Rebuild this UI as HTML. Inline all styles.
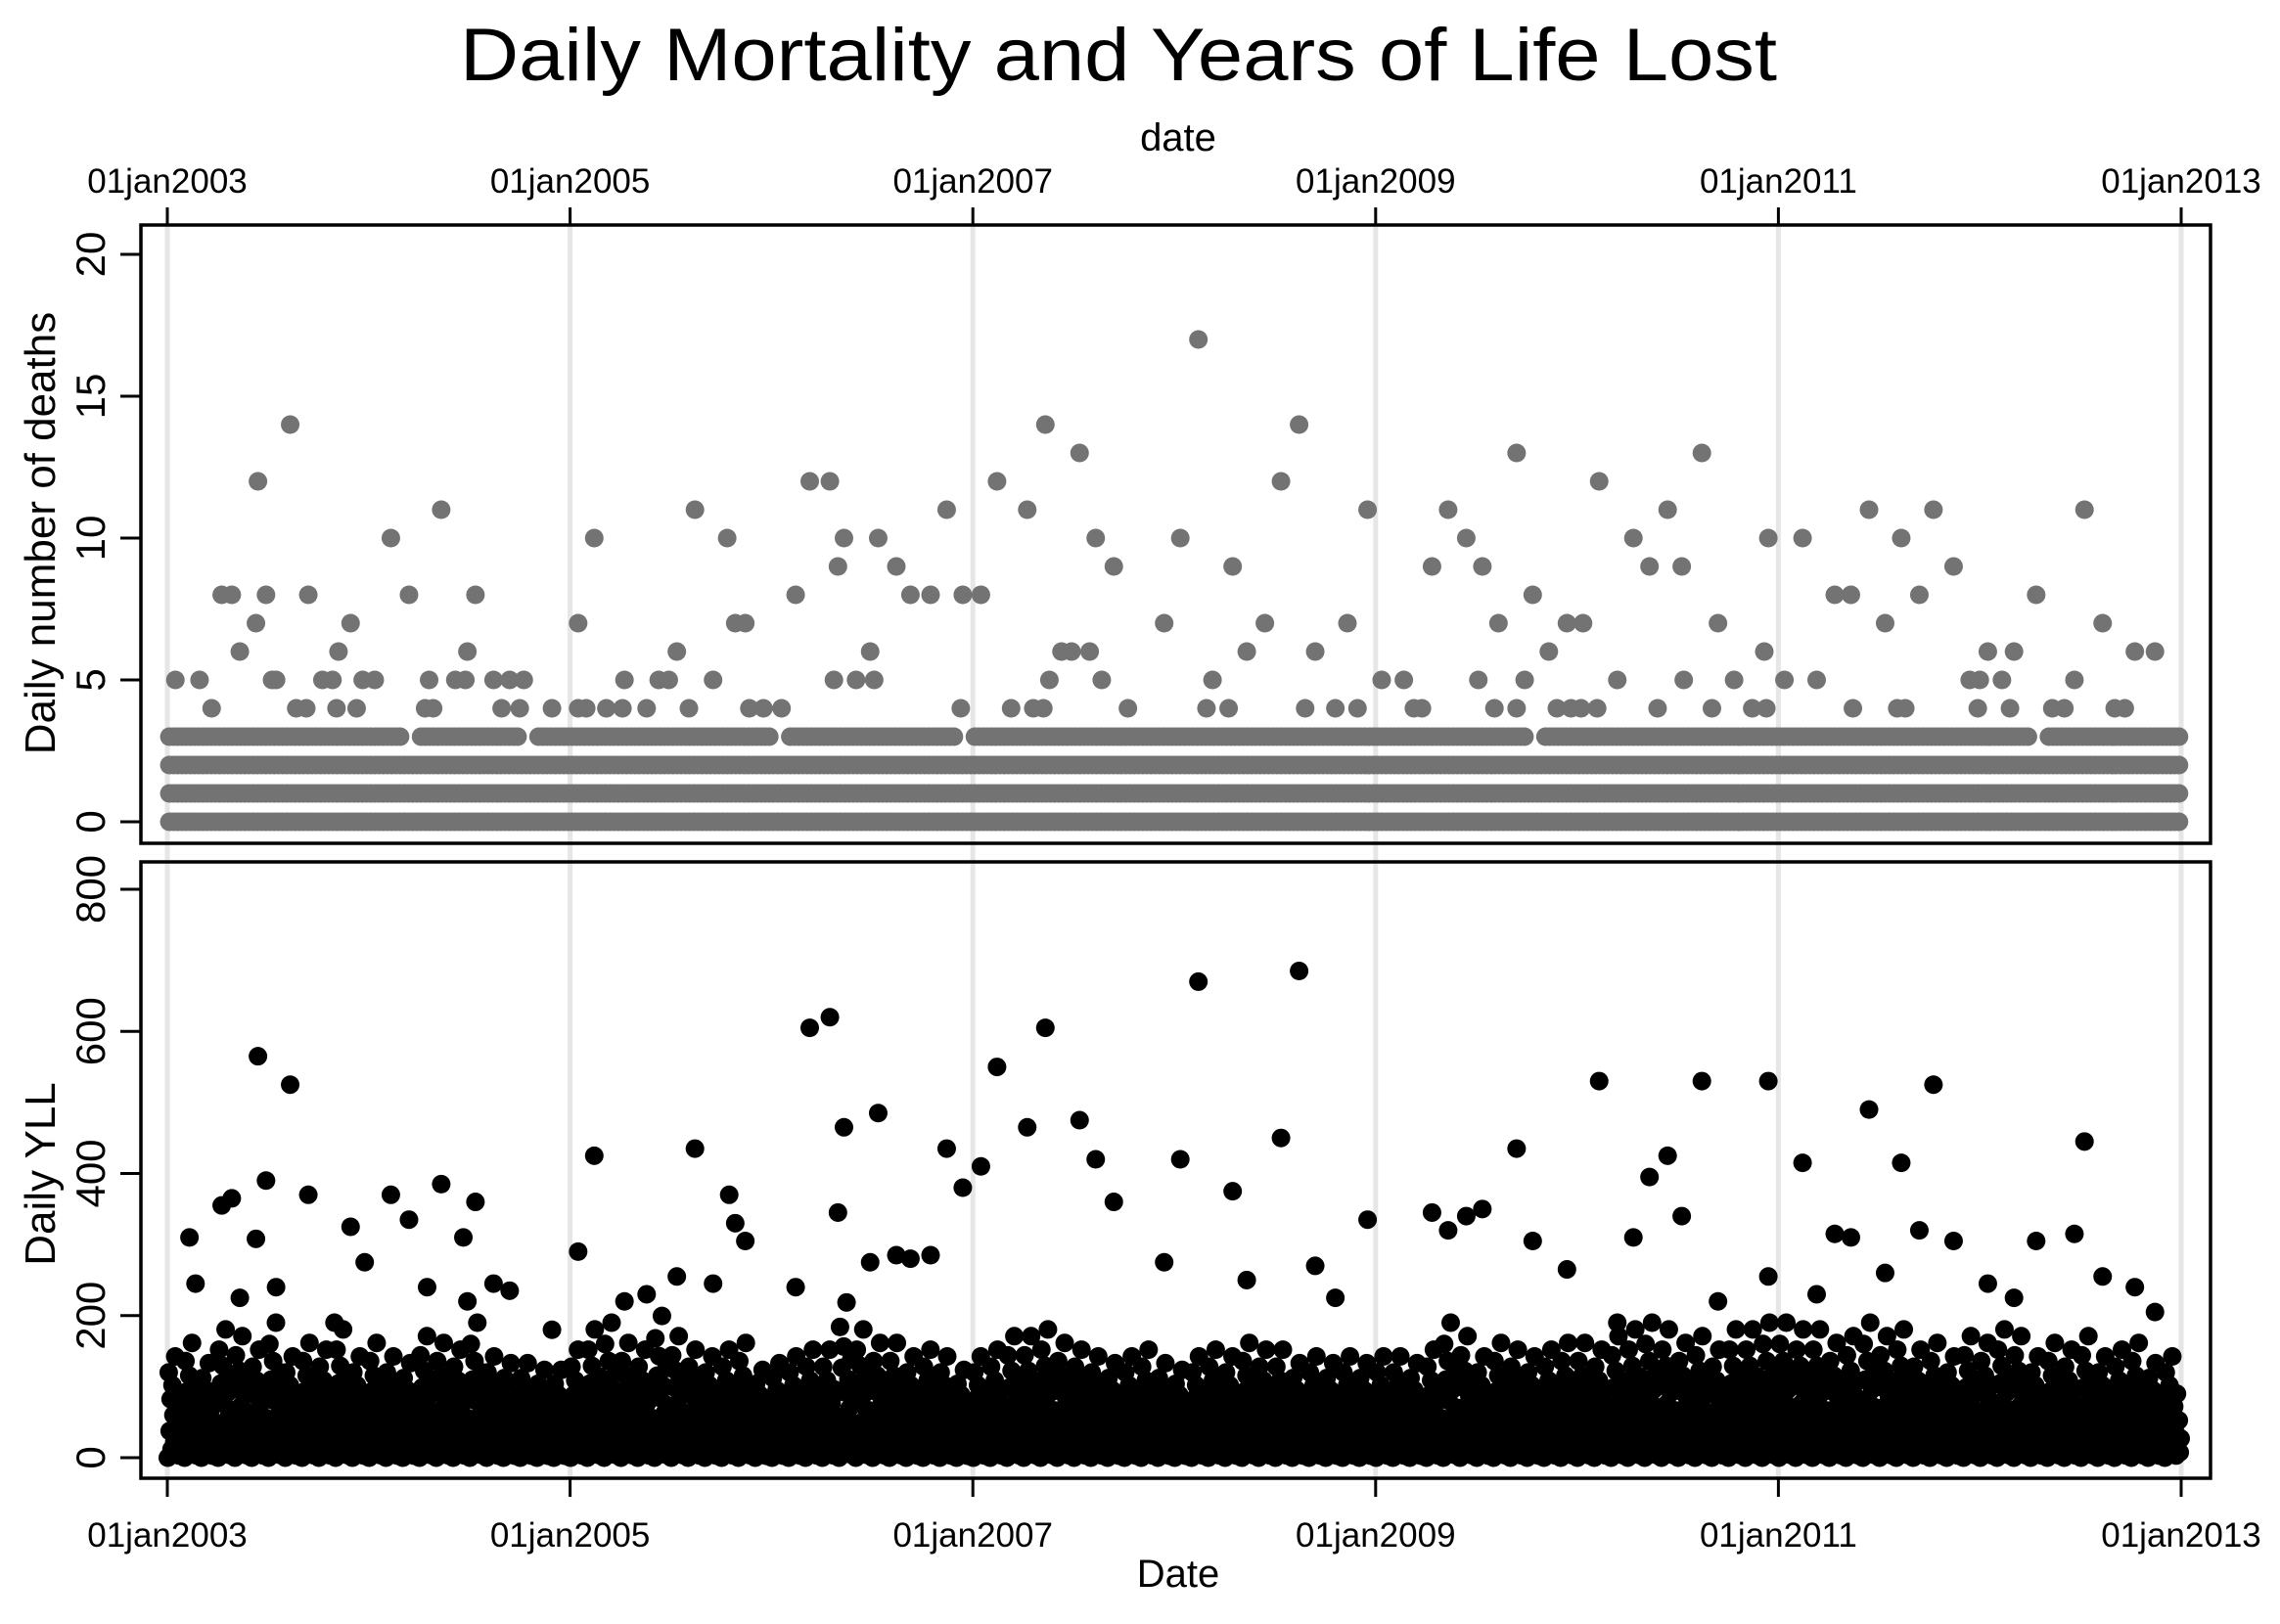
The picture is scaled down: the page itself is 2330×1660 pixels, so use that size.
<!DOCTYPE html>
<html><head><meta charset="utf-8">
<style>
html,body{margin:0;padding:0;background:#fff;}
svg{display:block;font-family:"Liberation Sans",sans-serif;}
</style></head>
<body>
<svg id="chart" width="2330" height="1660" viewBox="0 0 2330 1660" xmlns="http://www.w3.org/2000/svg">
<rect width="2330" height="1660" fill="#fff"/>
<g id="grid"></g>
<g id="marks"></g>
<g id="axes"></g>
<text x="470" y="82" font-size="76" textLength="1346" lengthAdjust="spacingAndGlyphs">Daily Mortality and Years of Life Lost</text>
<text x="1204" y="154" font-size="40" text-anchor="middle">date</text>
<text x="1204" y="1622" font-size="40" text-anchor="middle">Date</text>
<text transform="translate(56,545) rotate(-90)" font-size="44" text-anchor="middle">Daily number of deaths</text>
<text transform="translate(56,1200) rotate(-90)" font-size="44" text-anchor="middle">Daily YLL</text>
</svg>
<script>
// ---- data ----
const xTickYears = [2003, 2005, 2007, 2009, 2011, 2013];
const xTickLabels = ["01jan2003","01jan2005","01jan2007","01jan2009","01jan2011","01jan2013"];
const deathTicks = [0, 5, 10, 15, 20];
const yllTicks = [0, 200, 400, 600, 800];
const deathYears = [0.04,0.16,0.22,0.27,0.32,0.36,0.45,0.44,0.49,0.52,0.54,0.61,0.64,0.70,0.69,0.77,0.82,0.85,0.91,0.84,0.94,0.97,1.03,1.11,1.20,1.28,1.30,1.36,1.32,1.43,1.49,1.53,1.48,1.62,1.70,1.77,1.66,1.75,1.91,2.04,2.04,2.08,2.12,2.18,2.26,2.27,2.38,2.44,2.49,2.53,2.59,2.62,2.71,2.78,2.82,2.87,2.89,2.96,3.05,3.12,3.19,3.29,3.31,3.42,3.33,3.36,3.49,3.51,3.53,3.62,3.69,3.79,3.87,3.95,3.94,4.04,4.12,4.19,4.27,4.36,4.30,4.35,4.38,4.44,4.49,4.53,4.58,4.61,4.64,4.70,4.77,4.95,5.03,5.12,5.16,5.19,5.27,5.29,5.36,5.45,5.53,5.62,5.65,5.70,5.80,5.86,5.91,5.96,6.03,6.14,6.19,6.23,6.28,6.36,6.45,6.53,6.51,6.59,6.70,6.61,6.70,6.74,6.78,6.86,6.90,6.95,7.03,6.97,7.02,7.11,7.10,7.20,7.28,7.36,7.40,7.45,7.52,7.53,7.62,7.67,7.70,7.78,7.87,7.94,7.93,7.95,8.03,8.12,8.19,8.28,8.36,8.37,8.45,8.53,8.61,8.59,8.63,8.70,8.77,8.87,8.95,9.00,8.99,9.04,9.11,9.15,9.17,9.28,9.36,9.42,9.47,9.52,9.61,9.67,9.72,9.77,9.87];
const deathVals  = [5,5,4,8,8,6,12,7,8,5,5,14,4,8,4,5,5,6,7,4,4,5,5,10,8,4,5,11,4,5,6,8,5,5,5,5,4,4,4,4,7,4,10,4,4,5,4,5,5,6,4,11,5,10,7,7,4,4,4,8,12,12,5,5,9,10,6,5,10,9,8,8,11,8,4,8,12,4,11,14,4,4,5,6,6,13,6,10,5,9,4,7,10,17,4,5,4,9,6,7,12,14,4,6,4,7,4,11,5,5,4,4,9,11,10,9,5,4,13,7,4,5,8,6,4,7,7,4,4,12,4,5,10,9,4,11,9,5,13,4,7,5,4,4,6,10,5,10,5,8,8,4,11,7,10,4,4,8,11,9,5,5,4,6,5,4,6,8,4,4,5,11,7,4,4,6,6];
const deathDenseTop = [3,3,3,3,3,3,3,3,3,3,3,3, 3,3,2,3,3,3,3,3,3,2,3,3, 3,3,3,3,3,3,3,3,3,3,3,3, 2,3,3,3,3,3,3,3,3,3,3,2, 3,3,3,3,3,3,3,3,3,3,3,3, 3,3,3,3,3,3,3,3,3,3,3,3, 3,3,3,3,3,3,3,3,3,2,3,3, 3,3,3,3,3,3,3,3,3,3,3,3, 3,3,3,3,3,3,3,3,3,3,3,3, 3,3,3,2,3,3,3,3,3,3,3,3];
const yllYears = [0.11,0.14,0.27,0.32,0.36,0.45,0.44,0.49,0.54,0.61,0.70,0.83,0.91,0.98,1.11,1.20,1.29,1.36,1.47,1.53,1.49,1.62,1.70,1.91,2.04,2.12,2.27,2.38,2.53,2.62,2.71,2.79,2.82,2.87,3.12,3.19,3.29,3.33,3.36,3.49,3.53,3.62,3.69,3.79,3.87,3.95,4.04,4.12,4.27,4.36,4.53,4.61,4.70,4.95,5.03,5.12,5.29,5.36,5.53,5.62,5.70,5.80,5.96,6.28,6.36,6.45,6.53,6.70,6.78,6.95,7.11,7.20,7.28,7.36,7.45,7.52,7.62,7.70,7.95,7.95,8.12,8.19,8.28,8.36,8.45,8.53,8.61,8.70,8.77,8.87,9.04,9.17,9.28,9.47,9.52,9.61,9.77,9.87];
const yllVals  = [310,245,355,365,225,565,308,390,240,525,370,190,325,275,370,335,240,385,310,360,220,245,235,180,290,425,220,230,255,435,245,370,330,305,240,605,620,345,465,275,485,285,280,285,435,380,410,550,465,605,475,420,360,275,420,670,375,250,450,685,270,225,335,345,320,340,350,435,305,265,530,190,310,395,425,340,530,220,530,255,415,230,315,310,490,260,415,320,525,305,245,225,305,315,445,255,240,205];
const yllDenseTop = [150,170,140,190,180,160,200,150,170,160,190,150, 170,150,140,180,170,160,200,150,140,140,130,130, 160,190,200,170,160,210,180,160,150,160,170,130, 140,150,160,160,230,190,170,170,150,160,150,130, 150,160,180,180,190,170,160,150,140,150,160,140, 130,150,160,150,170,160,160,140,150,140,150,140, 150,150,140,160,200,180,150,170,160,150,160,170, 170,160,180,190,200,190,170,180,160,190,190,200, 200,190,190,170,180,200,180,190,160,170,150,180, 170,190,180,150,170,160,180,150,160,170,140,150];
const yllFracs = [0.0,0.8,0.25,0.55,0.08,0.68,0.4,0.15,0.95,0.03,0.48,0.3,0.12,0.6,0.2,0.35,0.05,0.18];

// ---- layout ----
const X0 = 171, X1 = 2229, PL = 144, PR = 2259;
const topP = {t:230, b:862, y0:840, y1:260, vmax:20};
const botP = {t:881, b:1511, y0:1490, y1:909, vmax:800};
const R = 9.5;
function xs(off){ return X0 + (X1 - X0) * off / 10; }
function yTop(v){ return topP.y0 + (topP.y1 - topP.y0) * v / topP.vmax; }
function yBot(v){ return botP.y0 + (botP.y1 - botP.y0) * v / botP.vmax; }
const NS = "http://www.w3.org/2000/svg";
function mk(tag, attrs, parent){ const e = document.createElementNS(NS, tag); for (const k in attrs) e.setAttribute(k, attrs[k]); parent.appendChild(e); return e; }
const gridG = document.getElementById('grid'), marksG = document.getElementById('marks'), axesG = document.getElementById('axes');

xTickYears.forEach(function(yr){
  const x = xs(yr - 2003);
  const g = mk('line', {x1:x, x2:x, y1:topP.t, y2:botP.b, stroke:'#e6e6e6', 'stroke-width':5}, gridG);
  
  
});

const gTop = mk('g', {fill:'#737373'}, marksG);


deathDenseTop.forEach(function(topRow, m){
  for (let k = 0; k < 4; k++) {
    const off = (m + k / 4 + 0.12) / 12;
    for (let v = 0; v <= topRow; v++) {
      const e = mk('circle', {cx:xs(off), cy:yTop(v), r:R}, gTop);
      
      
    }
  }
});
deathYears.forEach(function(off, i){
  const e = mk('circle', {cx:xs(off), cy:yTop(deathVals[i]), r:R}, gTop);
  
  
});

const gBot = mk('g', {fill:'#000'}, marksG);


yllDenseTop.forEach(function(hi, m){
  yllFracs.forEach(function(f, k){
    const off = (m + (k + 0.5) / yllFracs.length) / 12;
    const e = mk('circle', {cx:xs(off), cy:yBot(hi * f), r:R}, gBot);
    
    
  });
  const e2 = mk('circle', {cx:xs((m + 0.3) / 12), cy:yBot(hi * 0.08), r:R}, gBot);
  
  
  const e3 = mk('circle', {cx:xs((m + 0.7) / 12), cy:yBot(hi * 0.02), r:R}, gBot);
  
  
});
yllYears.forEach(function(off, i){
  const e = mk('circle', {cx:xs(off), cy:yBot(yllVals[i]), r:R}, gBot);
  
  
});

const f1 = mk('rect', {x:PL, y:topP.t, width:PR-PL, height:topP.b-topP.t, fill:'none', stroke:'#000', 'stroke-width':3.5}, axesG);


const f2 = mk('rect', {x:PL, y:botP.t, width:PR-PL, height:botP.b-botP.t, fill:'none', stroke:'#000', 'stroke-width':3.5}, axesG);



xTickYears.forEach(function(yr, i){
  const x = xs(yr - 2003);
  mk('line', {x1:x, x2:x, y1:topP.t - 18, y2:topP.t, stroke:'#000', 'stroke-width':3}, axesG);
  mk('line', {x1:x, x2:x, y1:botP.b, y2:botP.b + 19, stroke:'#000', 'stroke-width':3}, axesG);
  const t1 = mk('text', {x:x, y:197, 'font-size':35, 'text-anchor':'middle'}, axesG);
  t1.textContent = xTickLabels[i];
  
  
  const t2 = mk('text', {x:x, y:1581, 'font-size':35, 'text-anchor':'middle'}, axesG);
  t2.textContent = xTickLabels[i];
  
  
});
deathTicks.forEach(function(v){
  const y = yTop(v);
  mk('line', {x1:123, x2:PL, y1:y, y2:y, stroke:'#000', 'stroke-width':3}, axesG);
  const t = mk('text', {transform:'translate(107,' + y + ') rotate(-90)', 'font-size':42, 'text-anchor':'middle'}, axesG);
  t.textContent = String(v);
  
  
});
yllTicks.forEach(function(v){
  const y = yBot(v);
  mk('line', {x1:123, x2:PL, y1:y, y2:y, stroke:'#000', 'stroke-width':3}, axesG);
  const t = mk('text', {transform:'translate(107,' + y + ') rotate(-90)', 'font-size':42, 'text-anchor':'middle'}, axesG);
  t.textContent = String(v);
  
  
});
</script>
</body></html>
